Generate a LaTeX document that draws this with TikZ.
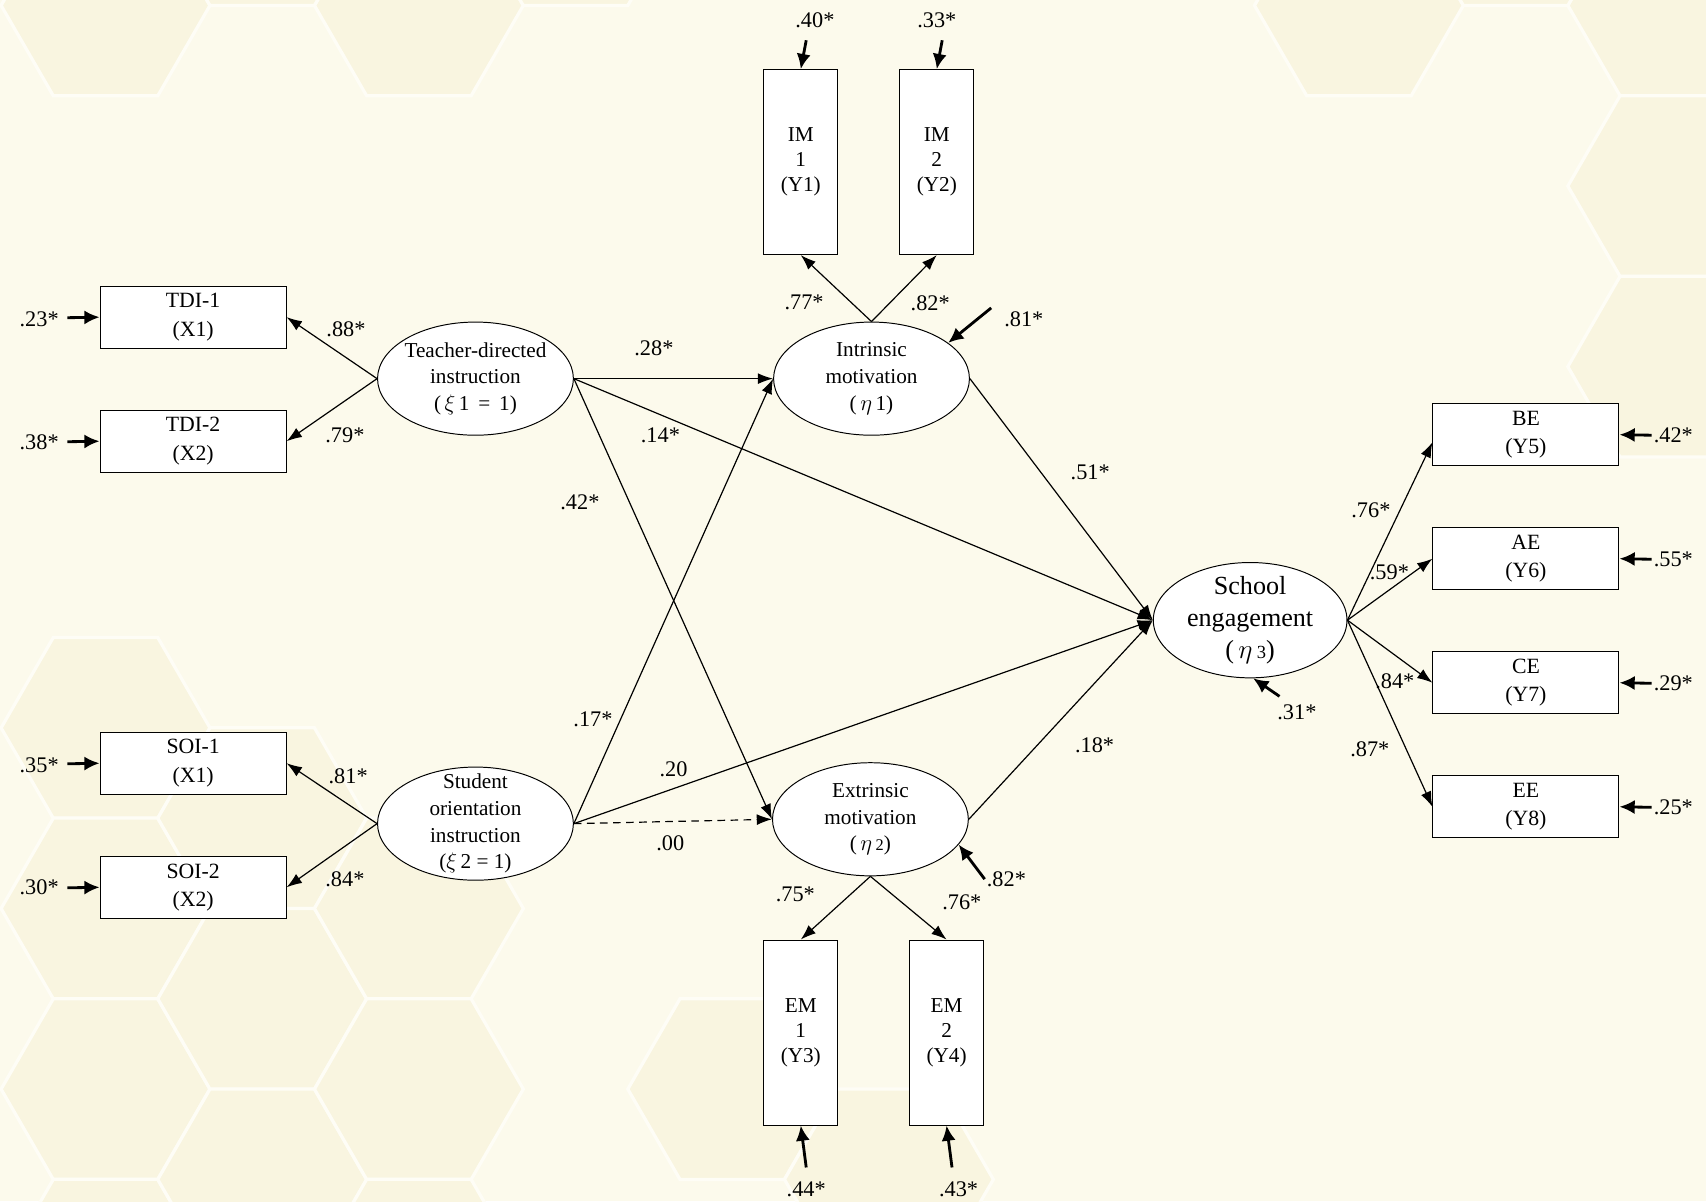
\documentclass[tikz,border=0pt]{standalone}
\usepackage{fontspec}
\setmainfont{Liberation Serif}
\usetikzlibrary{arrows.meta,shapes.geometric,calc}
\definecolor{bgc}{RGB}{252,250,236}
\definecolor{hexc}{RGB}{249,245,224}
\definecolor{hexe}{RGB}{254,253,246}
\begin{document}
\begin{tikzpicture}[x=1pt,y=-1pt,
  obs/.style={draw, fill=white, line width=0.9pt, minimum width=171pt, minimum height=57pt, inner sep=0pt, align=center, font=\fontsize{20}{26}\selectfont},
  vobs/.style={obs, minimum width=68pt, minimum height=170pt, font=\fontsize{19.5}{23}\selectfont},
  lat/.style={ellipse, draw, fill=white, line width=0.9pt, minimum width=180pt, minimum height=104pt, inner sep=0pt},
  lattxt/.style={align=center, inner sep=0pt, font=\fontsize{19.5}{24.5}\selectfont},
  lab/.style={inner sep=0pt, font=\fontsize{20.5}{22}\selectfont},
  pth/.style={-{Latex[length=14pt,width=10pt]}, line width=1.1pt},
  err/.style={-{Latex[length=14pt,width=13pt]}, line width=2.6pt},
  hexcell/.style={fill=hexc, draw=hexe, line width=3pt},
]
\useasboundingbox (0,0) rectangle (1568,1104);
\fill[bgc] (0,0) rectangle (1568,1104);
% background hexagons
\begin{scope}
\clip (0,0) rectangle (1568,1104);
\foreach \k/\j in {0/0,2/0,8/0,10/0,1/-1,3/-1,9/-1,10/1,10/2,
                   0/4,0/5,0/6,0/7,1/4,1/5,1/6,2/5,2/6,2/7,4/6,5/6} {
  \pgfmathsetmacro\cx{97+144*\k}
  \pgfmathsetmacro\cy{5+166*\j+(mod(\k,2)==1 ? 83 : 0)}
  \path[hexcell] (\cx+96,\cy) -- (\cx+48,\cy+83.1) -- (\cx-48,\cy+83.1)
     -- (\cx-96,\cy) -- (\cx-48,\cy-83.1) -- (\cx+48,\cy-83.1) -- cycle;
}
\end{scope}

% observed boxes
\node[obs] (tdi1) at (177.5,291.5) {TDI-1\\(X1)};
\node[obs] (tdi2) at (177.5,405.5) {TDI-2\\(X2)};
\node[obs] (soi1) at (177.5,701.5) {SOI-1\\(X1)};
\node[obs] (soi2) at (177.5,815.5) {SOI-2\\(X2)};
\node[vobs] (im1) at (736,149) {IM\\1\\(Y1)};
\node[vobs] (im2) at (861,149) {IM\\2\\(Y2)};
\node[vobs] (em1) at (736,949) {EM\\1\\(Y3)};
\node[vobs] (em2) at (870,949) {EM\\2\\(Y4)};
\node[obs] (be) at (1402.5,399.5) {BE\\(Y5)};
\node[obs] (ae) at (1402.5,513.5) {AE\\(Y6)};
\node[obs] (ce) at (1402.5,627.5) {CE\\(Y7)};
\node[obs] (ee) at (1402.5,741.5) {EE\\(Y8)};

% latent ellipses
\node[lat] (tdi) at (437,348) {};
\node[lattxt] (tdit) at (tdi) {Teacher-directed\\instruction\\(\,$\xi$\,1 \,=\, 1)};
\node[lat] (soi) at (437,757) {};
\node[lattxt] (soit) at (soi) {Student\\orientation\\instruction\\($\xi$\,2 = 1)};
\node[lat] (int) at (801,348) {};
\node[lattxt] (intt) at (int) {Intrinsic\\motivation\\(\,$\eta$\,1)};
\node[lat] (ext) at (800,753) {};
\node[lattxt] (extt) at (ext) {Extrinsic\\motivation\\(\,$\eta$\,{\fontsize{15}{15}\selectfont 2})};
\node[lat, minimum width=178pt, minimum height=106pt] (sch) at (1149,570) {};
\node[lattxt, font=\fontsize{24}{29}\selectfont] (scht) at (sch) {School\\engagement\\(\,$\eta$\,{\fontsize{17}{17}\selectfont 3})};

% structural paths
\draw[pth] (tdi.west) -- (tdi1.east);
\draw[pth] (tdi.west) -- (tdi2.east);
\draw[pth] (soi.west) -- (soi1.east);
\draw[pth] (soi.west) -- (soi2.east);
\draw[pth] (tdi.east) -- (int.west);
\draw[pth] (tdi.east) -- (sch.west);
\draw[pth] (tdi.east) -- (ext.west);
\draw[pth] (soi.east) -- (int.west);
\draw[pth] (soi.east) -- (sch.west);
\draw[pth, dash pattern=on 7pt off 5pt] (soi.east) -- (ext.west);
\draw[pth] (int.east) -- (sch.west);
\draw[pth] (ext.east) -- (sch.west);
\draw[pth] (int.north) -- (im1.south);
\draw[pth] (int.north) -- (im2.south);
\draw[pth] (ext.south) -- (em1.north);
\draw[pth] (ext.south) -- (em2.north);
\draw[pth] (sch.east) -- ($(be.west)+(0,7)$);
\draw[pth] (sch.east) -- (ae.west);
\draw[pth] (sch.east) -- (ce.west);
\draw[pth] (sch.east) -- (ee.west);

% error terms
\coordinate (c23) at (62,292);
\coordinate (c38) at (62,406);
\coordinate (c35) at (62,702);
\coordinate (c30) at (62,816);
\draw[err] (c23) -- (tdi1.west);
\draw[err] (c38) -- (tdi2.west);
\draw[err] (c35) -- (soi1.west);
\draw[err] (c30) -- (soi2.west);
\coordinate (c40) at (741,37);
\coordinate (c33) at (866,37);
\coordinate (c44) at (741,1073);
\coordinate (c43) at (875,1073);
\draw[err] (c40) -- (im1.north);
\draw[err] (c33) -- (im2.north);
\draw[err] (c44) -- (em1.south);
\draw[err] (c43) -- (em2.south);
\coordinate (c81) at (911,283);
\coordinate (c82) at (905,808);
\coordinate (c31) at (1176,640);
\draw[err] (c81) -- (int.25);
\draw[err] (c82) -- (ext.-16);
\draw[err] (c31) -- (sch.-87);
\coordinate (c42) at (1518,400);
\coordinate (c55) at (1518,514);
\coordinate (c29) at (1518,628);
\coordinate (c25) at (1518,742);
\draw[err] (c42) -- (be.east);
\draw[err] (c55) -- (ae.east);
\draw[err] (c29) -- (ce.east);
\draw[err] (c25) -- (ee.east);

% labels
\node[lab] (l1) at (36,293) {.23*};
\node[lab] (l2) at (36,406) {.38*};
\node[lab] (l3) at (36,703) {.35*};
\node[lab] (l4) at (36,815) {.30*};
\node[lab] (l5) at (318,303) {.88*};
\node[lab] (l6) at (317,400) {.79*};
\node[lab] (l7) at (320,713) {.81*};
\node[lab] (l8) at (317,808) {.84*};
\node[lab] (l9) at (601,320) {.28*};
\node[lab] (l10) at (607,400) {.14*};
\node[lab] (l11) at (533,462) {.42*};
\node[lab] (l12) at (545,661) {.17*};
\node[lab] (l13) at (619,707) {.20};
\node[lab] (l14) at (616,775) {.00};
\node[lab] (l15) at (739,278) {.77*};
\node[lab] (l16) at (855,279) {.82*};
\node[lab] (l17) at (941,293) {.81*};
\node[lab] (l18) at (1002,434) {.51*};
\node[lab] (l19) at (1006,685) {.18*};
\node[lab] (l20) at (731,822) {.75*};
\node[lab] (l21) at (884,829) {.76*};
\node[lab] (l22) at (925,808) {.82*};
\node[lab] (l23) at (749,19) {.40*};
\node[lab] (l24) at (861,19) {.33*};
\node[lab] (l25) at (741,1093) {.44*};
\node[lab] (l26) at (881,1093) {.43*};
\node[lab] (l27) at (1192,655) {.31*};
\node[lab] (l28) at (1260,469) {.76*};
\node[lab] (l29) at (1277,526) {.59*};
\node[lab] (l30) at (1282,626) {.84*};
\node[lab] (l31) at (1259,689) {.87*};
\node[lab] (l32) at (1538,400) {.42*};
\node[lab] (l33) at (1538,514) {.55*};
\node[lab] (l34) at (1538,628) {.29*};
\node[lab] (l35) at (1538,742) {.25*};
\end{tikzpicture}
\end{document}
